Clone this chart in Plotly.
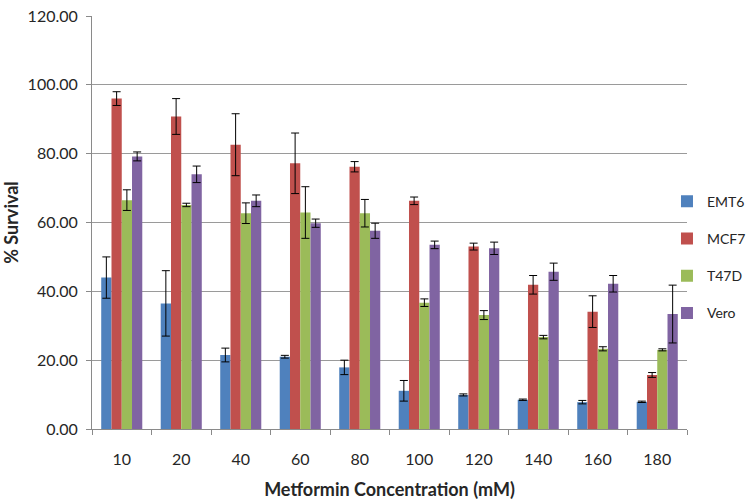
import plotly.graph_objects as go

concentrations = ["10", "20", "40", "60", "80", "100", "120", "140", "160", "180"]

emt6 = [44.0, 36.5, 21.5, 21.0, 17.9, 11.1, 9.9, 8.5, 7.8, 7.9]
emt6_err = [6.0, 9.5, 2.0, 0.4, 2.1, 3.0, 0.3, 0.2, 0.5, 0.2]

mcf7 = [96.0, 90.8, 82.6, 77.2, 76.2, 66.3, 53.0, 41.9, 34.1, 15.7]
mcf7_err = [2.0, 5.2, 9.0, 8.8, 1.5, 1.1, 1.0, 2.7, 4.6, 0.7]

t47d = [66.5, 65.1, 62.7, 62.9, 62.7, 36.7, 33.1, 26.7, 23.3, 23.0]
t47d_err = [3.0, 0.5, 3.0, 7.5, 4.0, 1.1, 1.3, 0.5, 0.6, 0.3]

vero = [79.2, 74.0, 66.3, 59.8, 57.6, 53.5, 52.5, 45.7, 42.2, 33.4]
vero_err = [1.3, 2.4, 1.7, 1.2, 2.2, 1.1, 1.8, 2.5, 2.4, 8.4]

series = [
    ("EMT6", emt6, emt6_err, "#4F81BD"),
    ("MCF7", mcf7, mcf7_err, "#C0504D"),
    ("T47D", t47d, t47d_err, "#9BBB59"),
    ("Vero", vero, vero_err, "#8064A2"),
]

FONT = "Lato, 'Open Sans', sans-serif"
TXT = "#262626"

fig = go.Figure()
for name, vals, errs, color in series:
    fig.add_trace(go.Bar(
        x=concentrations, y=vals, name=name,
        legendgroup=name,
        marker=dict(color=color, line=dict(width=0)),
        error_y=dict(type="data", array=errs, visible=True,
                     color="#000000", thickness=1, width=4),
    ))

fig.update_layout(
    width=749, height=502,
    margin=dict(l=92, r=62, t=16, b=73, autoexpand=False),
    paper_bgcolor="white", plot_bgcolor="white",
    barmode="group", bargap=0.31, bargroupgap=0,
    font=dict(family=FONT, size=15, color=TXT),
    showlegend=True,
    legend=dict(xref="container", x=0.8905, xanchor="left",
                yref="container", y=0.63, yanchor="top",
                font=dict(family=FONT, size=14, color=TXT),
                tracegroupgap=16, bgcolor="rgba(0,0,0,0)",
                itemwidth=30),
)

fig.update_xaxes(
    type="category", automargin=False,
    showline=True, linecolor="#8a8a8a", linewidth=1,
    ticks="outside", tickson="boundaries", ticklen=5, tickcolor="#8a8a8a",
    ticklabelstandoff=16,
    showgrid=False,
    tickfont=dict(family=FONT, size=16, color=TXT),
    title=dict(text="<b>Metformin Concentration (mM)</b>",
               font=dict(family=FONT, size=18, color=TXT), standoff=16),
)
fig.update_yaxes(
    range=[0, 120], dtick=20, tickformat=".2f", automargin=False,
    showline=True, linecolor="#8a8a8a", linewidth=1,
    ticks="outside", ticklen=5, tickcolor="#8a8a8a",
    ticklabelstandoff=5,
    showgrid=True, gridcolor="#9a9a9a", gridwidth=1,
    zeroline=False,
    tickfont=dict(family=FONT, size=16, color=TXT),
    title=dict(text="<b>% Survival</b>",
               font=dict(family=FONT, size=18, color=TXT), standoff=4),
)

fig.write_html("out.html",
               config={"displayModeBar": False},
               post_script="document.body.style.margin='0';document.body.style.overflow='hidden';")
